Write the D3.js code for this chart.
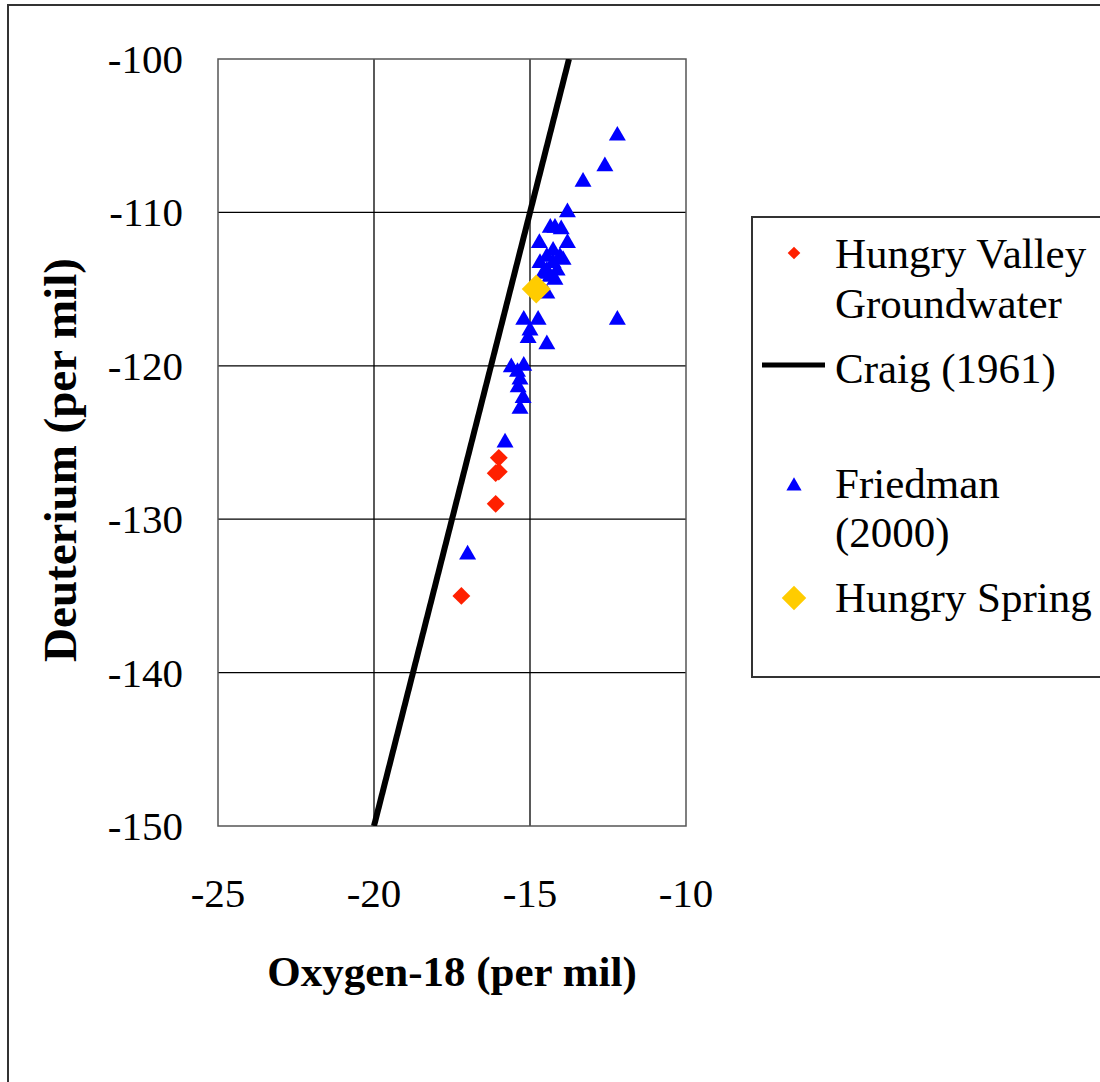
<!DOCTYPE html>
<html>
<head>
<meta charset="utf-8">
<script src="https://cdn.jsdelivr.net/npm/d3@7"></script>
<style>
  body { margin: 0; background: #fff; }
  text { font-family: "Liberation Serif", "Times New Roman", serif; fill: #000; }
</style>
</head>
<body>
<script>
//isotope data, per mil
var hungryValley = [[-16.0, -126], [-16.0, -126.9], [-16.1, -127], [-16.1, -129], [-17.2, -135]];
var friedman = [[-12.2, -105], [-12.6, -107], [-13.3, -108], [-13.8, -110], [-14.2, -111], [-14.35, -111],
  [-14.0, -111.1], [-13.8, -112], [-14.7, -112], [-14.26, -112.5], [-14.46, -112.9], [-14.04, -112.9],
  [-14.68, -113.3], [-14.26, -113.3], [-13.94, -113.1], [-14.46, -113.8], [-14.13, -113.8], [-14.36, -114.2],
  [-14.2, -114.4], [-14.58, -114.0], [-14.46, -115.3], [-12.2, -117], [-15.2, -117], [-14.74, -117],
  [-15.0, -117.7], [-15.06, -118.2], [-14.46, -118.6], [-15.6, -120.1], [-15.2, -120], [-15.4, -120.4],
  [-15.32, -120.9], [-15.38, -121.4], [-15.22, -122.1], [-15.32, -122.8], [-15.8, -125], [-17.0, -132.3]];
var hungrySpring = [[-14.8, -115]];
//Craig (1961) meteoric water line end points
var craig = [[-20, -150], [-13.75, -100]];

var xTicks = [-25, -20, -15, -10],
    yTicks = [-100, -110, -120, -130, -140, -150];

var legendLabels = [["Hungry Valley", "Groundwater"], ["Craig (1961)"], ["Friedman", "(2000)"], ["Hungry Spring"]];

drawChart();

function drawChart(){
    var width = 1100, height = 1082;
    var svg = d3.select("body").append("svg")
        .attr("width", width)
        .attr("height", height);

    //outer frame
    svg.append("rect")
        .attr("x", 8).attr("y", 5)
        .attr("width", 1120).attr("height", 1100)
        .attr("fill", "none").attr("stroke", "#333").attr("stroke-width", 2);

    //plot area
    var pLeft = 218, pRight = 686, pTop = 59, pBottom = 826;
    var x = d3.scaleLinear().domain([-25, -10]).range([pLeft, pRight]);
    var y = d3.scaleLinear().domain([-150, -100]).range([pBottom, pTop]);

    //grid lines
    svg.selectAll(".vgrid")
        .data(xTicks.slice(1, -1))
        .enter().append("line")
        .attr("x1", function(d){ return x(d); }).attr("x2", function(d){ return x(d); })
        .attr("y1", pTop).attr("y2", pBottom)
        .attr("stroke", "#000").attr("stroke-width", 1.3);
    svg.selectAll(".hgrid")
        .data(yTicks.slice(1, -1))
        .enter().append("line")
        .attr("y1", function(d){ return y(d); }).attr("y2", function(d){ return y(d); })
        .attr("x1", pLeft).attr("x2", pRight)
        .attr("stroke", "#000").attr("stroke-width", 1.3);

    svg.append("rect")
        .attr("x", pLeft).attr("y", pTop)
        .attr("width", pRight - pLeft).attr("height", pBottom - pTop)
        .attr("fill", "none").attr("stroke", "#555").attr("stroke-width", 1.5);

    //tick labels
    svg.selectAll(".ylab")
        .data(yTicks)
        .enter().append("text")
        .attr("x", 183)
        .attr("y", function(d){ return y(d) + 14; })
        .attr("text-anchor", "end")
        .style("font-size", "41px")
        .text(function(d){ return d; });
    svg.selectAll(".xlab")
        .data(xTicks)
        .enter().append("text")
        .attr("x", function(d){ return x(d); })
        .attr("y", 907)
        .attr("text-anchor", "middle")
        .style("font-size", "41px")
        .text(function(d){ return d; });

    //axis titles
    svg.append("text")
        .attr("x", 452).attr("y", 986)
        .attr("text-anchor", "middle")
        .style("font-size", "43px").style("font-weight", "bold")
        .text("Oxygen-18 (per mil)");
    svg.append("text")
        .attr("transform", "translate(76,460) rotate(-90)")
        .attr("text-anchor", "middle")
        .style("font-size", "47px").style("font-weight", "bold")
        .text("Deuterium (per mil)");

    //clip for the plot area
    svg.append("clipPath").attr("id", "plotClip")
        .append("rect")
        .attr("x", pLeft).attr("y", pTop)
        .attr("width", pRight - pLeft).attr("height", pBottom - pTop);

    var line = d3.line()
        .x(function(d){ return x(d[0]); })
        .y(function(d){ return y(d[1]); });

    svg.append("path")
        .datum(craig)
        .attr("d", line)
        .attr("clip-path", "url(#plotClip)")
        .attr("fill", "none").attr("stroke", "#000").attr("stroke-width", 6);

    var diamond = d3.symbol().type(d3.symbolSquare);
    var triangle = d3.symbol().type(d3.symbolTriangle);

    svg.selectAll(".friedman")
        .data(friedman)
        .enter().append("path")
        .attr("d", triangle.size(125)())
        .attr("transform", function(d){ return "translate(" + x(d[0]) + "," + y(d[1]) + ")"; })
        .attr("fill", "#0000ff");

    svg.selectAll(".hv")
        .data(hungryValley)
        .enter().append("path")
        .attr("d", diamond.size(160)())
        .attr("transform", function(d){ return "translate(" + x(d[0]) + "," + y(d[1]) + ") rotate(45)"; })
        .attr("fill", "#ff2000");

    svg.selectAll(".hs")
        .data(hungrySpring)
        .enter().append("path")
        .attr("d", diamond.size(420)())
        .attr("transform", function(d){ return "translate(" + x(d[0]) + "," + y(d[1]) + ") rotate(45)"; })
        .attr("fill", "#ffcc00");

    //legend
    var legend = svg.append("g");
    legend.append("rect")
        .attr("x", 752).attr("y", 217)
        .attr("width", 400).attr("height", 460)
        .attr("fill", "#fff").attr("stroke", "#333").attr("stroke-width", 2);

    var legendY = [[268, 318], [383], [498, 547], [612]];
    legendLabels.forEach(function(lines, i){
        lines.forEach(function(t, j){
            legend.append("text")
                .attr("x", 835).attr("y", legendY[i][j])
                .style("font-size", "43px")
                .text(t);
        });
    });

    legend.append("path")
        .attr("d", diamond.size(80)())
        .attr("transform", "translate(794,253) rotate(45)")
        .attr("fill", "#ff2000");
    legend.append("line")
        .attr("x1", 762).attr("x2", 825).attr("y1", 365).attr("y2", 365)
        .attr("stroke", "#000").attr("stroke-width", 5);
    legend.append("path")
        .attr("d", triangle.size(100)())
        .attr("transform", "translate(794,486)")
        .attr("fill", "#0000ff");
    legend.append("path")
        .attr("d", diamond.size(300)())
        .attr("transform", "translate(794,598) rotate(45)")
        .attr("fill", "#ffcc00");
}
</script>
</body>
</html>
